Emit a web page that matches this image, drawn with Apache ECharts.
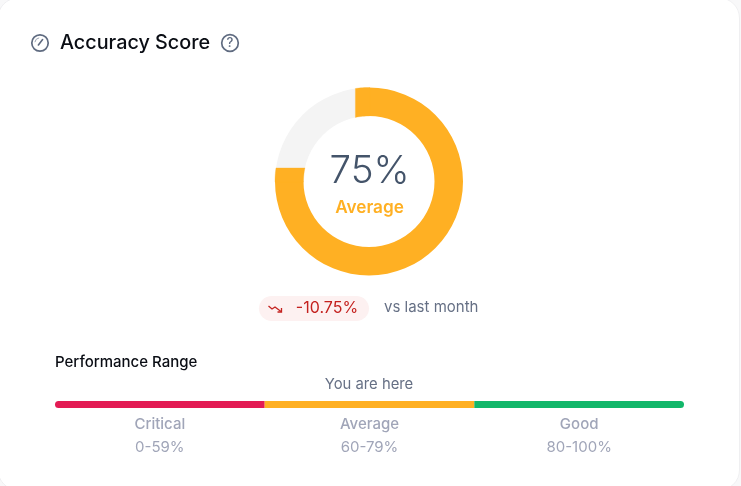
<!DOCTYPE html>
<html><head><meta charset="utf-8">
<style>html,body{margin:0;padding:0;background:#f8f8f9;overflow:hidden}#c{width:741px;height:486px}</style>
<script src="https://cdn.jsdelivr.net/npm/echarts@6/dist/echarts.min.js"></script>
</head><body><div id="c"></div>
<script>
const scoreValues = [75, 25];
const scoreColors = ['#FFB023', '#F4F4F4'];
const rangeNames = ['Critical', 'Average', 'Good'];
const rangeLabels = ['0-59%', '60-79%', '80-100%'];
const rangeWidths = [1, 1, 1];
const rangeColors = ['#E31B54', '#FFB023', '#12B76A'];
const scoreText = '75%', statusText = 'Average', changeText = '-10.75%';
const FONT = 'Inter, "Noto Sans", sans-serif';
const cx = 369, cy = 181.5, R = 94, r0 = 65.5, off = 14.2;

function arcStrip(horizontal) {
  // ring edge is displaced from the centre: patch the band between the radial edge and the displaced edge
  const pts = [], n = 8;
  const at = (t, rad) => {
    const d = off * t - 0.6, h = Math.sqrt(rad * rad - d * d);
    return horizontal ? [cx - h, cy - d] : [cx - d, cy - h];
  };
  const steps = [];
  for (let i = 0; i <= n; i++) steps.push(i / n);
  steps.forEach(t => pts.push(at(t, R)));
  steps.slice().reverse().forEach(t => pts.push(at(t, r0)));
  return pts;
}
const txt = (x, y, text, size, fill, align, weight) => ({
  type: 'text', x, y, silent: true,
  style: { text, fontFamily: FONT, fontSize: size, fill, align: align || 'center', verticalAlign: 'middle', fontWeight: weight || 400 }
});
const ICON = '#5F6B80';
const chart = echarts.init(document.getElementById('c'), null, { renderer: 'canvas' });
chart.setOption({
  animation: false,
  grid: { left: 55, top: 401, width: 629, height: 7, containLabel: false },
  xAxis: { type: 'value', min: 0, max: 3, show: false },
  yAxis: { type: 'category', data: ['range'], show: false },
  graphic: { elements: [
    { type: 'rect', z: -10, silent: true, shape: { x: -2, y: -2, width: 741.5, height: 492, r: 20 }, style: { fill: '#fff', stroke: '#EFEFF1', lineWidth: 1 } },
    { type: 'circle', silent: true, shape: { cx: 40, cy: 43, r: 8.2 }, style: { fill: 'none', stroke: ICON, lineWidth: 1.7 } },
    { type: 'polyline', silent: true, shape: { points: [[38.4, 45], [42.6, 39.6]] }, style: { stroke: ICON, lineWidth: 1.6, lineCap: 'round' } },
    { type: 'arc', silent: true, shape: { cx: 40, cy: 43, r: 5.2, startAngle: Math.PI * 1.05, endAngle: Math.PI * 1.45 }, style: { fill: 'none', stroke: '#9AA3B2', lineWidth: 1 } },
    txt(60, 43.5, 'Accuracy Score', 19.8, '#0A0D14', 'left', 500),
    { type: 'circle', silent: true, shape: { cx: 230, cy: 43, r: 8.3 }, style: { fill: 'none', stroke: ICON, lineWidth: 1.7 } },
    txt(230, 43.5, '?', 13, ICON, 'center', 500),
    txt(369.5, 171, scoreText, 38.5, '#44546A', 'center', 300),
    txt(369.5, 207.5, statusText, 17.2, '#FFB023', 'center', 600),
    { type: 'rect', silent: true, shape: { x: 259, y: 296, width: 110, height: 25, r: 12.5 }, style: { fill: '#FDF1F1' } },
    { type: 'polyline', silent: true, shape: { points: [[268.5, 306], [272, 309], [275, 307], [281, 311.5]] }, style: { stroke: '#C4221F', lineWidth: 1.3, fill: 'none' } },
    { type: 'polyline', silent: true, shape: { points: [[281.5, 308], [281.5, 312], [277.5, 312]] }, style: { stroke: '#C4221F', lineWidth: 1.3, fill: 'none' } },
    txt(327, 308, changeText, 16, '#C4221F', 'center', 400),
    txt(384, 307.5, 'vs last month', 15, '#667085', 'left', 400),
    txt(55, 362, 'Performance Range', 15, '#0A0D14', 'left', 500),
    txt(369, 384.5, 'You are here', 14.8, '#667085', 'center', 400)
  ] },
  series: [
    {
      type: 'pie', center: [cx, cy], radius: [r0, R], startAngle: 90, clockwise: true, silent: true, z: 1,
      label: { show: false }, labelLine: { show: false }, emphasis: { disabled: true },
      data: scoreValues.map((value, i) => ({ value, itemStyle: { color: scoreColors[i] } }))
    },
    {
      type: 'custom', coordinateSystem: 'none', silent: true, z: 2, data: [0, 1],
      renderItem: (p, api) => ({
        type: 'polygon', shape: { points: arcStrip(api.value(0) === 1) },
        style: { fill: scoreColors[0], stroke: scoreColors[0], lineWidth: 0.3 }
      }),
      encode: { value: 0 }
    },
    ...rangeNames.map((name, i) => ({
      type: 'bar', name, stack: 'range', barWidth: 7, silent: true, z: 3,
      data: [rangeWidths[i]],
      itemStyle: { color: rangeColors[i], borderRadius: i === 0 ? [4, 0, 0, 4] : i === 2 ? [0, 4, 4, 0] : 0 },
      label: {
        show: true, position: 'bottom', distance: 5, align: 'center',
        formatter: '{a|' + name + '}\n{b|' + rangeLabels[i] + '}',
        rich: {
          a: { fontFamily: FONT, fontSize: 15, fontWeight: 500, color: '#A0A5B8', lineHeight: 23, align: 'center' },
          b: { fontFamily: FONT, fontSize: 15, color: '#A0A5B8', lineHeight: 23, align: 'center' }
        }
      }
    }))
  ]
});
</script></body></html>
